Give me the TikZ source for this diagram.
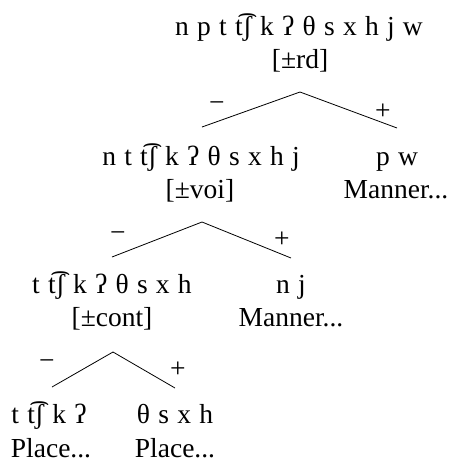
\documentclass[tikz,border=0pt]{standalone}
\usepackage{fontspec}
\setmainfont{Liberation Serif}[WordSpace=1.2]
\usetikzlibrary{calc}
\begin{document}
\begin{tikzpicture}[x=1pt,y=-1pt,
  every node/.style={font=\fontsize{27.5}{32}\selectfont, inner sep=0pt},
  seg/.style={anchor=base},
  feat/.style={anchor=base},
  sign/.style={anchor=center},
  branch/.style={line width=0.8pt}]
\useasboundingbox (0,0) rectangle (456,464);

% root: [±rd]
\node[seg]  (s0)  at (299,35)  {n p t t͡ʃ k ʔ θ s x h j w};
\node[feat] (f0)  at (300,68)  {[±rd]};
\coordinate (a0) at (300,92);

% minus branch: [±voi]
\node[seg]  (s1)  at (201,165) {n t t͡ʃ k ʔ θ s x h j};
\node[feat] (f1)  at (200,198) {[±voi]};
\coordinate (a1) at (202,222);
% plus branch
\node[seg]  (s1r) at (397,165) {p w};
\node[feat] (m1r) at (396,198) {Manner...};

% minus branch: [±cont]
\node[seg]  (s2)  at (112,293) {t t͡ʃ k ʔ θ s x h};
\node[feat] (f2)  at (112,326) {[±cont]};
\coordinate (a2) at (113,352);
% plus branch
\node[seg]  (s2r) at (291,293) {n j};
\node[feat] (m2r) at (291,326) {Manner...};

% leaves
\node[seg]  (s3)  at (49,423)  {t t͡ʃ k ʔ};
\node[feat] (p3)  at (51,457)  {Place...};
\node[seg]  (s3r) at (175,423) {θ s x h};
\node[feat] (p3r) at (175,457) {Place...};

% branches
\draw[branch] ([yshift=38pt]s1.base -| a1) -- (a0) -- ([yshift=37pt]s1r.base);
\draw[branch] ([yshift=36pt]s2.base) -- (a1) -- ([yshift=35pt]s2r.base);
\draw[branch] ([yshift=36pt]s3.base -| 52,0) -- (a2) -- ([yshift=35pt]s3r.base);

% branch values
\node[sign] (m0) at ($(a0)+(-83,15)$) {−};
\node[sign] (p0) at ($(a0)+(83,20)$)  {+};
\node[sign] (m1) at ($(a1)+(-84,15)$) {−};
\node[sign] (p1) at ($(a1)+(80,18)$)  {+};
\node[sign] (m2) at ($(a2)+(-66,13)$) {−};
\node[sign] (p2) at ($(a2)+(65,18)$)  {+};
\end{tikzpicture}
\end{document}
